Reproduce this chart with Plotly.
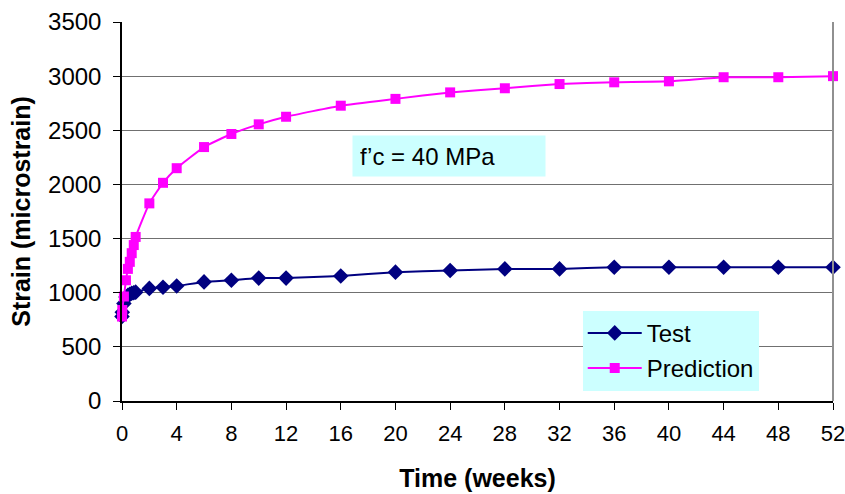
import plotly.graph_objects as go

time_weeks = [0, 0.02, 0.14, 0.29, 0.43, 0.57, 0.71, 0.86, 1.0,
              2, 3, 4, 6, 8, 10, 12, 16, 20, 24, 28, 32, 36, 40, 44, 48, 52]
test_strain = [780, 820, 900, 960, 975, 985, 995, 1000, 1005,
               1040, 1050, 1062, 1100, 1115, 1135, 1135, 1155, 1190, 1205,
               1220, 1220, 1235, 1235, 1235, 1235, 1235]
pred_strain = [780, 840, 965, 1115, 1220, 1285, 1365, 1440, 1515,
               1825, 2015, 2150, 2345, 2466, 2555, 2625, 2727, 2790, 2850,
               2888, 2927, 2943, 2952, 2990, 2990, 3000]
x_ticks = list(range(0, 53, 4))
y_ticks = list(range(0, 3501, 500))
annotation_text = "f’c = 40 MPa"

FONT = "Liberation Sans, Arial, sans-serif"

fig = go.Figure()
fig.add_trace(go.Scatter(
    x=time_weeks, y=test_strain, name="Test", mode="lines+markers",
    line=dict(color="#000080", width=2, shape="spline", smoothing=0.4),
    marker=dict(symbol="diamond", size=12, color="#000080"),
    cliponaxis=False, legendgroup="a"))
fig.add_trace(go.Scatter(
    x=time_weeks, y=pred_strain, name="Prediction", mode="lines+markers",
    line=dict(color="#FF00FF", width=2, shape="spline", smoothing=0.4),
    marker=dict(symbol="square", size=10, color="#FF00FF"),
    cliponaxis=False, legendgroup="b"))

fig.update_layout(
    width=845, height=494,
    margin=dict(l=121.5, r=12, t=22, b=93, autoexpand=False),
    paper_bgcolor="white", plot_bgcolor="white",
    font=dict(family=FONT, size=23, color="black"),
    showlegend=True,
    legend=dict(x=0.648, y=0.238, xanchor="left", yanchor="top",
                bgcolor="#CCFFFF", borderwidth=0,
                font=dict(family=FONT, size=24, color="black"),
                tracegroupgap=1, itemwidth=54),
    xaxis=dict(range=[0, 52], tickvals=x_ticks, ticktext=[str(v) for v in x_ticks],
               showgrid=False, zeroline=False, showline=True, linecolor="black",
               linewidth=1.5, ticks="outside", ticklen=7, tickcolor="black",
               tickfont=dict(family=FONT, size=22), ticklabeloverflow="allow",
               ticklabelstandoff=5,
               title=dict(text="<b>Time (weeks)</b>", font=dict(family=FONT, size=25),
                          standoff=24)),
    yaxis=dict(range=[0, 3500], tickvals=y_ticks, ticktext=[str(v) for v in y_ticks],
               showgrid=True, gridcolor="#707070", gridwidth=1,
               zeroline=False, showline=True, linecolor="black", linewidth=1.5,
               ticks="outside", ticklen=7, tickcolor="black",
               tickfont=dict(family=FONT, size=24), ticklabelstandoff=7,
               title=dict(text="<b>Strain (microstrain)</b>", font=dict(family=FONT, size=25),
                          standoff=10)),
)

# right border of plot area
fig.add_shape(type="line", xref="paper", yref="paper", x0=1, x1=1, y0=0, y1=1,
              line=dict(color="#909090", width=2))

fig.add_annotation(
    x=16.85, y=2070, xref="x", yref="y", xanchor="left", yanchor="bottom",
    text=annotation_text, showarrow=False, align="left",
    bgcolor="#CCFFFF", borderpad=7, width=178, height=26,
    font=dict(family=FONT, size=24, color="black"))

fig.write_html(
    "out.html",
    config={"displayModeBar": False},
    post_script="document.body.style.margin='0';document.body.style.overflow='hidden';",
)
